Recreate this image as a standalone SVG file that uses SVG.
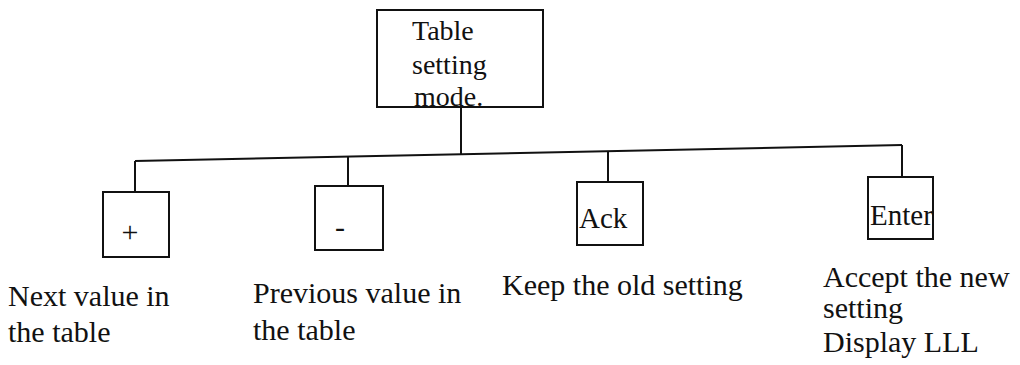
<svg xmlns="http://www.w3.org/2000/svg" width="1020" height="365" viewBox="0 0 1020 365">
  <style>
    .box { fill: none; stroke: #111; stroke-width: 2; }
    .wire { fill: none; stroke: #111; stroke-width: 2; }
    .t { font-family: "Liberation Serif", "Times New Roman", serif; fill: #111; }
    .head { font-size: 28px; }
    .key { font-size: 29px; }
    .sym { font-size: 30px; }
    .note { font-size: 30px; }
  </style>
  <defs>
    <clipPath id="enterClip">
      <rect x="868" y="177" width="65" height="62"/>
    </clipPath>
  </defs>
  <rect width="1020" height="365" fill="#fff"/>

  <!-- connectors: trunk, bus and drops -->
  <g id="connectors">
    <line class="wire" x1="461" y1="107" x2="461" y2="154"/>
    <line class="wire" x1="135" y1="161" x2="902" y2="145"/>
    <line class="wire" x1="135" y1="161" x2="135" y2="192"/>
    <line class="wire" x1="348" y1="156.6" x2="348" y2="186"/>
    <line class="wire" x1="608" y1="151.2" x2="608" y2="182"/>
    <line class="wire" x1="902" y1="145" x2="902" y2="177"/>
  </g>

  <!-- root: mode box -->
  <g id="table-setting-mode">
    <rect class="box" x="377" y="10" width="166" height="97"/>
    <text class="t head" x="412" y="40">Table</text>
    <text class="t head" x="412" y="74">setting</text>
    <text class="t head" x="414" y="106">mode.</text>
  </g>

  <!-- key: plus -->
  <g id="key-plus">
    <rect class="box" x="103" y="192" width="66" height="65"/>
    <text class="t sym" x="130" y="242" text-anchor="middle">+</text>
    <text class="t note" x="8" y="306">Next value in</text>
    <text class="t note" x="8" y="342">the table</text>
  </g>

  <!-- key: minus -->
  <g id="key-minus">
    <rect class="box" x="315" y="186" width="68" height="64"/>
    <text class="t sym" x="340" y="237" text-anchor="middle">-</text>
    <text class="t note" x="253" y="303">Previous value in</text>
    <text class="t note" x="253" y="340">the table</text>
  </g>

  <!-- key: ack -->
  <g id="key-ack">
    <rect class="box" x="577" y="182" width="66" height="63"/>
    <text class="t key" x="579" y="228">Ack</text>
    <text class="t note" x="502" y="295">Keep the old setting</text>
  </g>

  <!-- key: enter (label runs past the right edge) -->
  <g id="key-enter">
    <text class="t key" x="870" y="225" clip-path="url(#enterClip)">Enter</text>
    <rect class="box" x="868" y="177" width="65" height="62"/>
    <text class="t note" x="823" y="287">Accept the new</text>
    <text class="t note" x="823" y="318">setting</text>
    <text class="t note" x="823" y="352">Display LLL</text>
  </g>
</svg>
